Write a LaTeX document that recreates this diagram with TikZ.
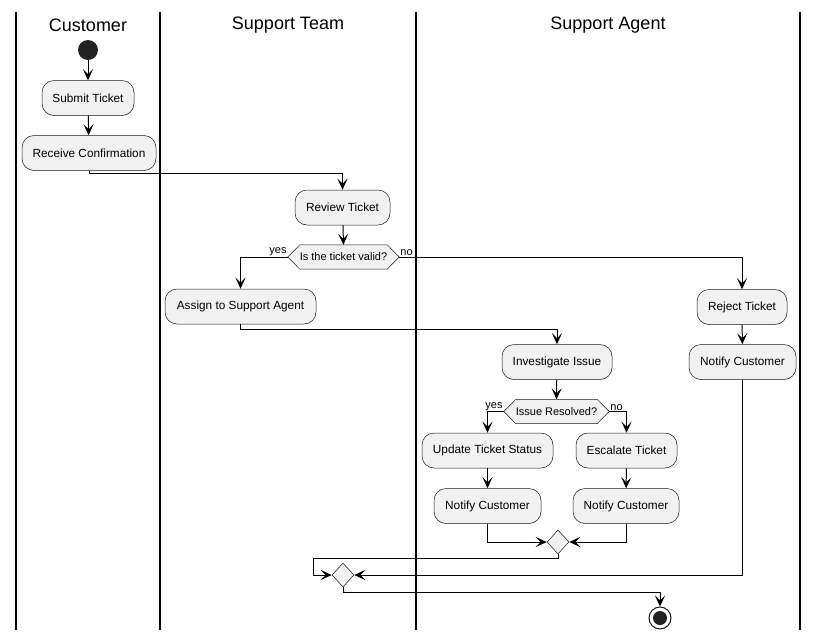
\documentclass[tikz,border=0pt]{standalone}
\usepackage{fontspec}
\setmainfont{Liberation Sans}
\usetikzlibrary{arrows.meta,shapes.geometric,backgrounds,calc}
\definecolor{actfill}{HTML}{F1F1F1}
\definecolor{actline}{HTML}{181818}
\definecolor{dotfill}{HTML}{222222}
\begin{document}
\begin{tikzpicture}[x=1pt,y=-1pt,
  lane/.style={line width=1.5pt},
  lanetitle/.style={font=\fontsize{18}{22}\selectfont, inner sep=0pt},
  act/.style={draw=actline, line width=0.5pt, fill=actfill, rounded corners=12pt,
    minimum height=35pt, inner sep=0pt, font=\fontsize{11.8}{14}\selectfont},
  choice/.style={inner sep=0pt, minimum height=24pt, font=\fontsize{11}{13}\selectfont},
  hexa/.style={draw=actline, line width=0.5pt, fill=actfill},
  merge/.style={diamond, draw=actline, line width=0.5pt, fill=actfill,
    minimum width=22pt, minimum height=24pt, inner sep=0pt},
  flow/.style={line width=1pt, -{Stealth[length=11pt,width=10pt,inset=5pt]}},
  branch/.style={font=\fontsize{11}{13}\selectfont, inner sep=1pt},
]
\useasboundingbox (0,0) rectangle (817,640);

% swimlanes
\draw[lane] (16,12) -- (16,630);
\draw[lane] (160,12) -- (160,630);
\draw[lane] (416,12) -- (416,630);
\draw[lane] (800,12) -- (800,630);
\node[lanetitle] (hcust) at (88,25) {Customer};
\node[lanetitle] (hteam) at (288,25) {Support Team};
\node[lanetitle] (hagent) at (608,25) {Support Agent};

% customer lane
\node[circle, fill=dotfill, minimum size=20pt, inner sep=0pt] (start) at (88,50) {};
\node[act, minimum width=92pt] (submit) at (88,98) {Submit Ticket};
\node[act, minimum width=134pt] (recv) at (89,153) {Receive Confirmation};

% support team lane
\node[act, minimum width=95pt] (review) at (342.5,207.5) {Review Ticket};
\node[choice, minimum width=111pt] (valid) at (343.5,257) {Is the ticket valid?};
\node[act, minimum width=151pt] (assign) at (240.5,306.5) {Assign to Support Agent};

% support agent lane
\node[act, minimum width=110pt] (invest) at (557,362) {Investigate Issue};
\node[choice, minimum width=105pt] (resolved) at (556.5,411.5) {Issue Resolved?};
\node[act, minimum width=131pt] (update) at (487.5,450.5) {Update Ticket Status};
\node[act, minimum width=101pt] (escalate) at (626.5,450.5) {Escalate Ticket};
\node[act, minimum width=107pt] (notifyA) at (487.5,506) {Notify Customer};
\node[act, minimum width=106pt] (notifyB) at (626,506) {Notify Customer};
\node[act, minimum width=90pt] (reject) at (742,307) {Reject Ticket};
\node[act, minimum width=107pt] (notifyC) at (742.5,362) {Notify Customer};
\node[merge] (merge1) at (558,542) {};
\node[merge] (merge2) at (343,575) {};
\node[circle, draw=actline, line width=1pt, fill=white, minimum size=22pt, inner sep=0pt] (stop) at (660,618) {};
\node[circle, fill=dotfill, minimum size=14pt, inner sep=0pt] (stopdot) at (stop.center) {};

% hexagonal decision outlines
\begin{scope}[on background layer]
  \foreach \d in {valid,resolved}{
    \draw[hexa] (\d.west) -- ($(\d.north west)+(12,0)$) -- ($(\d.north east)+(-12,0)$)
      -- (\d.east) -- ($(\d.south east)+(-12,0)$) -- ($(\d.south west)+(12,0)$) -- cycle;
  }
\end{scope}

% flow
\draw[flow] (start) -- (submit);
\draw[flow] (submit) -- (recv);
\draw[flow] (recv.south) -- ++(0,3) -| (review.north);
\draw[flow] (review) -- (valid.north);
\draw[flow] (valid.west) -| (assign.north);
\draw[flow] (valid.east) -| (reject.north);
\node[branch, anchor=south east] (yes1) at (valid.west) {yes};
\node[branch, anchor=south west] (no1) at (valid.east) {no};
\draw[flow] (assign.south) -- ++(0,5) -| (invest.north);
\draw[flow] (invest) -- (resolved.north);
\draw[flow] (resolved.west) -| (update.north);
\draw[flow] (resolved.east) -| (escalate.north);
\node[branch, anchor=south east] (yes2) at (resolved.west) {yes};
\node[branch, anchor=south west] (no2) at (resolved.east) {no};
\draw[flow] (update) -- (notifyA);
\draw[flow] (escalate) -- (notifyB);
\draw[flow] (notifyA.south) |- (merge1.west);
\draw[flow] (notifyB.south) |- (merge1.east);
\draw[flow] (reject) -- (notifyC);
\draw[flow] (merge1.south) -- ++(0,4) -- ++(-245,0) |- (merge2.west);
\draw[flow] (notifyC.south) |- (merge2.east);
\draw[flow] (merge2.south) -- ++(0,5) -| (stop.north);
\end{tikzpicture}
\end{document}
